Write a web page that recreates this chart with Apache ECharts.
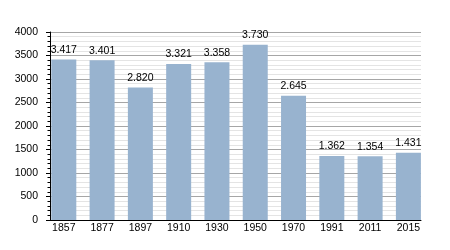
<!DOCTYPE html>
<html><head><meta charset="utf-8">
<script src="https://cdn.jsdelivr.net/npm/echarts@6/dist/echarts.min.js"></script>
<style>html,body{margin:0;padding:0;background:#fff}#c{width:450px;height:250px}</style>
</head><body><div id="c"></div>
<script>
const years = ['1857','1877','1897','1910','1930','1950','1970','1991','2011','2015'];
const population = [3417, 3401, 2820, 3321, 3358, 3730, 2645, 1362, 1354, 1431];
const yTicks = {min: 0, max: 4000, interval: 500};

const FONT = 'Liberation Sans';
const fmt = v => String(v).replace(/\B(?=(\d{3})+(?!\d))/g, '.');

const chart = echarts.init(document.getElementById('c'), null, {renderer: 'canvas'});
chart.setOption({
  animation: false,
  backgroundColor: '#fff',
  grid: [
    {left: 63.8, right: 41.6, top: 32, bottom: 30},
    {left: 50, right: 29, top: 32, bottom: 30}
  ],
  xAxis: [
    {gridIndex: 0, type: 'category', data: years, boundaryGap: false,
     axisLine: {show: false}, axisTick: {show: false}, splitLine: {show: false},
     axisLabel: {color: '#000', fontFamily: FONT, fontSize: 10.5, margin: 3, interval: 0}},
    {gridIndex: 1, type: 'value', min: 0, max: 1,
     axisLine: {show: true, lineStyle: {color: '#000', width: 1}}, axisTick: {show: false},
     axisLabel: {show: false}, splitLine: {show: false}}
  ],
  yAxis: [
    {gridIndex: 0, type: 'value', min: yTicks.min, max: yTicks.max, interval: yTicks.interval, show: false,
     splitLine: {show: false}},
    {gridIndex: 1, type: 'value', min: yTicks.min, max: yTicks.max, interval: yTicks.interval,
     axisLine: {show: true, lineStyle: {color: '#000', width: 1}},
     axisTick: {show: true, length: 4, lineStyle: {color: '#000'}},
     minorTick: {show: true, splitNumber: 5, length: 2.5, lineStyle: {color: '#000'}},
     axisLabel: {color: '#000', fontFamily: FONT, fontSize: 10.5, margin: 12, formatter: v => String(v)},
     splitLine: {show: true, lineStyle: {color: '#a6a6a6', width: 1}},
     minorSplitLine: {show: true, lineStyle: {color: '#e4e4e4', width: 1}}}
  ],
  series: [{
    type: 'bar', xAxisIndex: 0, yAxisIndex: 0, data: population,
    barWidth: 25, clip: false,
    itemStyle: {color: '#98b3cf'},
    label: {show: true, position: 'top', distance: 4, color: '#000', fontFamily: FONT, fontSize: 10.5,
      formatter: p => fmt(p.value)}
  }]
});
</script></body></html>
